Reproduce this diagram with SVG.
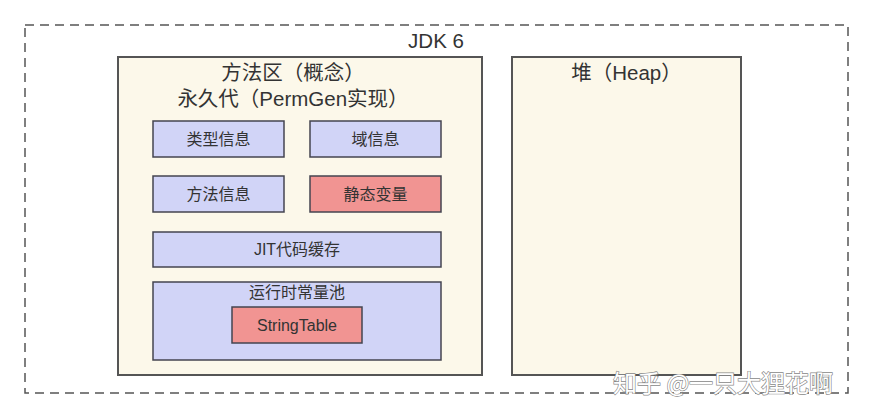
<svg xmlns="http://www.w3.org/2000/svg" width="873" height="419" viewBox="0 0 873 419">
<style>
.t{font-family:"Liberation Sans","Noto Sans CJK SC",sans-serif;fill:#333;text-anchor:middle}
.box{fill:#D1D4F7;stroke:#444450;stroke-width:1.5}
.red{fill:#F19492;stroke:#444450;stroke-width:1.5}
.area{fill:#FCF8EA;stroke:#555;stroke-width:2}
.s{font-size:16px}
.l{font-size:20.5px}
</style>
<rect width="873" height="419" fill="#fff"/>
<g id="jdk6">
<rect x="25" y="25" width="823" height="368" fill="none" stroke="#555" stroke-width="1.5" stroke-dasharray="9,6"/>
<text class="t l" x="436" y="48">JDK 6</text>
</g>
<g id="method-area">
<rect class="area" x="118" y="57" width="364" height="318"/>
<text class="t l" x="293" y="80">方法区（概念）</text>
<text class="t l" x="293" y="106">永久代（PermGen实现）</text>
</g>
<g id="type-info"><rect class="box" x="153" y="121" width="131" height="36"/><text class="t s" x="218.5" y="144.5">类型信息</text></g>
<g id="field-info"><rect class="box" x="310" y="121" width="131" height="36"/><text class="t s" x="375.5" y="144.5">域信息</text></g>
<g id="method-info"><rect class="box" x="153" y="176" width="131" height="36"/><text class="t s" x="218.5" y="199.5">方法信息</text></g>
<g id="static-vars"><rect class="red" x="310" y="176" width="131" height="36"/><text class="t s" x="375.5" y="199.5">静态变量</text></g>
<g id="jit-cache"><rect class="box" x="153" y="232" width="288" height="35"/><text class="t s" x="297" y="255">JIT代码缓存</text></g>
<g id="runtime-pool"><rect class="box" x="153" y="282" width="288" height="78"/><text class="t s" x="297" y="298">运行时常量池</text></g>
<g id="string-table"><rect class="red" x="232" y="307" width="130" height="36"/><text class="t s" x="297" y="330.5">StringTable</text></g>
<g id="heap">
<rect class="area" x="512" y="57" width="229" height="318"/>
<text class="t l" x="626.5" y="80">堆（Heap）</text>
</g>
<g id="connectors"></g>
<text x="613" y="392" font-family="Noto Sans CJK SC,sans-serif" font-size="24" fill="#fff" stroke="#888" stroke-width="1.3" paint-order="stroke">知乎 @一只大狸花啊</text>
</svg>
